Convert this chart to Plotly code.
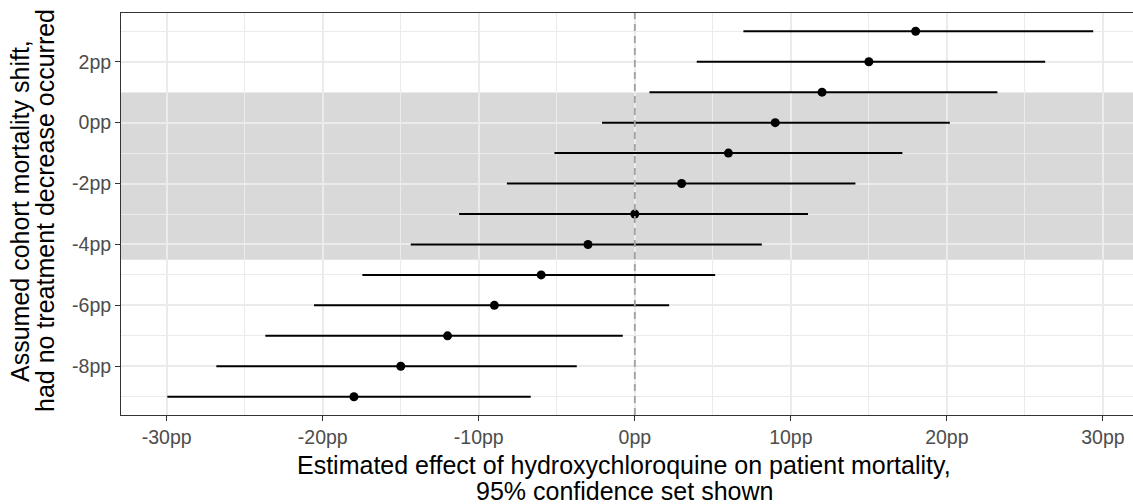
import plotly.graph_objects as go

# Data
shift = [3, 2, 1, 0, -1, -2, -3, -4, -5, -6, -7, -8, -9]
estimate = [18, 15, 12, 9, 6, 3, 0, -3, -6, -9, -12, -15, -18]
ci_low = [6.96, 3.97, 0.94, -2.1, -5.15, -8.2, -11.26, -14.36, -17.46, -20.56, -23.68, -26.82, -29.96]
ci_high = [29.38, 26.3, 23.24, 20.19, 17.15, 14.14, 11.1, 8.14, 5.15, 2.2, -0.77, -3.72, -6.67]
band_low, band_high = -4.5, 1.0

x_tickvals = [-30, -20, -10, 0, 10, 20, 30]
x_ticktext = ["-30pp", "-20pp", "-10pp", "0pp", "10pp", "20pp", "30pp"]
y_tickvals = [2, 0, -2, -4, -6, -8]
y_ticktext = ["2pp", "0pp", "-2pp", "-4pp", "-6pp", "-8pp"]

FONT = "Liberation Sans, Arial, Helvetica, sans-serif"

fig = go.Figure()

# CI segments
for lo, hi, s in zip(ci_low, ci_high, shift):
    fig.add_trace(go.Scatter(x=[lo, hi], y=[s, s], mode="lines",
                             line=dict(color="black", width=2),
                             hoverinfo="skip", showlegend=False))

fig.add_trace(go.Scatter(x=estimate, y=shift, mode="markers",
                         marker=dict(color="black", size=9),
                         showlegend=False))

# Shaded band
fig.add_shape(type="rect", xref="paper", yref="y", x0=0, x1=1,
              y0=band_low, y1=band_high, fillcolor="rgba(0,0,0,0.15)",
              line=dict(width=0), layer="between")
# Vertical dashed line at zero
fig.add_shape(type="line", xref="x", yref="paper", x0=0, x1=0, y0=0, y1=1,
              line=dict(color="#a0a0a0", width=1.8, dash="7px,5px"), layer="above")

L, T, W, H = 121, 13, 1133, 504
B = 89
pw = W - L
ph = H - T - B

def px_x(p):
    return (p - L) / pw

def px_y(p):
    return 1 - (p - T) / ph

title_font = dict(family=FONT, size=25, color="black")
fig.add_annotation(text="Estimated effect of hydroxychloroquine on patient mortality,",
                   xref="paper", yref="paper", x=px_x(624), y=px_y(465),
                   xanchor="center", yanchor="middle", showarrow=False, font=title_font)
fig.add_annotation(text="95% confidence set shown",
                   xref="paper", yref="paper", x=px_x(624), y=px_y(491),
                   xanchor="center", yanchor="middle", showarrow=False, font=title_font)
fig.add_annotation(text="Assumed cohort mortality shift,",
                   xref="paper", yref="paper", x=px_x(20), y=px_y(211),
                   xanchor="center", yanchor="middle", showarrow=False, textangle=-90,
                   font=title_font)
fig.add_annotation(text="had no treatment decrease occurred",
                   xref="paper", yref="paper", x=px_x(45), y=px_y(211),
                   xanchor="center", yanchor="middle", showarrow=False, textangle=-90,
                   font=title_font)

fig.update_layout(
    width=W, height=H,
    margin=dict(l=L, r=0, t=T, b=B),
    paper_bgcolor="white", plot_bgcolor="white",
    font=dict(family=FONT),
    showlegend=False,
)
fig.update_xaxes(
    range=[-32.93, 31.93], tickvals=x_tickvals, ticktext=x_ticktext,
    showgrid=True, gridcolor="#EBEBEB", gridwidth=1.5,
    minor=dict(tickvals=[-25, -15, -5, 5, 15, 25], showgrid=True, gridcolor="#EBEBEB", gridwidth=0.8),
    zeroline=False, showline=True, linecolor="#333333", linewidth=1, mirror=True,
    ticks="outside", ticklen=5, tickcolor="#333333", tickwidth=1,
    tickfont=dict(family=FONT, size=19.5, color="#4D4D4D"),
)
fig.update_yaxes(
    range=[-9.6, 3.6], tickvals=y_tickvals, ticktext=y_ticktext,
    showgrid=True, gridcolor="#EBEBEB", gridwidth=1.5,
    minor=dict(tickvals=[3, 1, -1, -3, -5, -7, -9], showgrid=True, gridcolor="#EBEBEB", gridwidth=0.8),
    zeroline=False, showline=True, linecolor="#333333", linewidth=1,
    ticks="outside", ticklen=5, tickcolor="#333333", tickwidth=1,
    tickfont=dict(family=FONT, size=19.5, color="#4D4D4D"),
)

fig.write_html("out.html")
